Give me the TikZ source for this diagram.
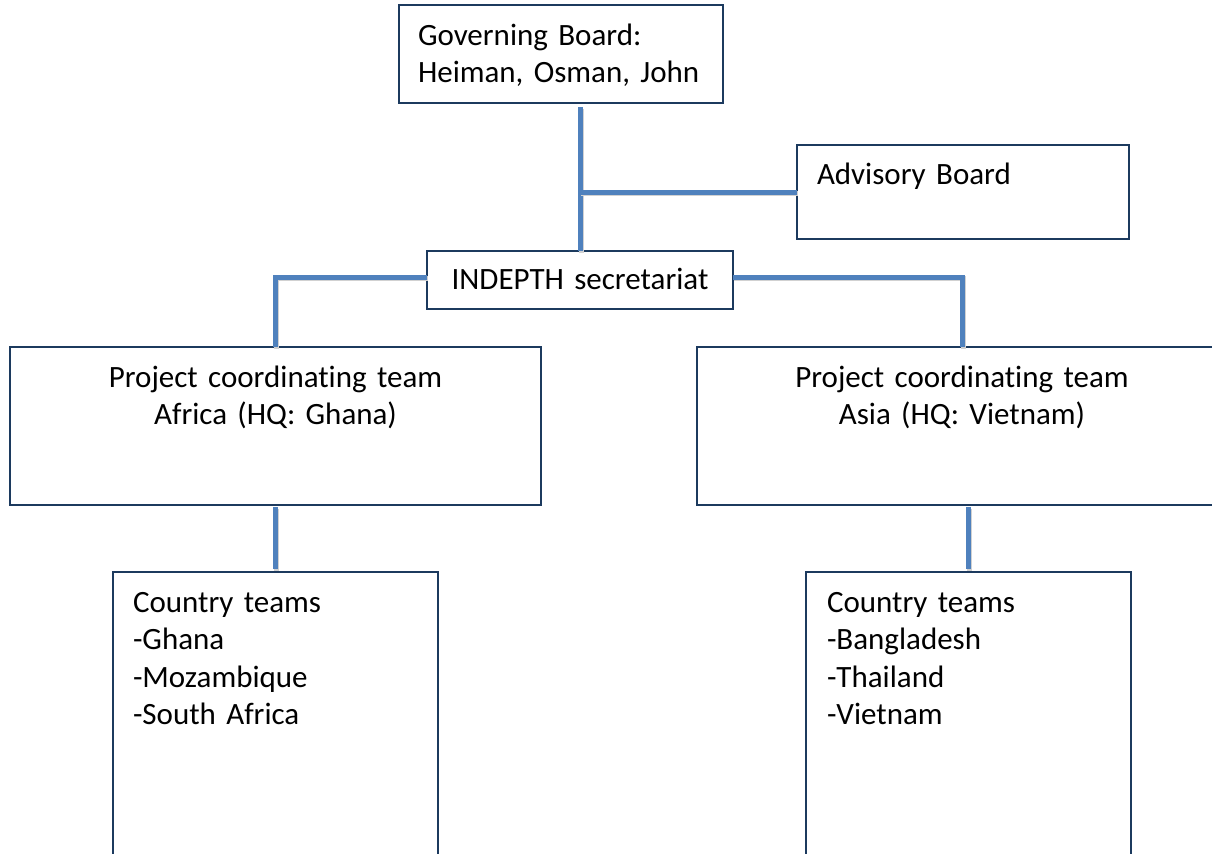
\documentclass[tikz,border=0pt]{standalone}
\usepackage{fontspec}
\setmainfont{Carlito}[Ligatures={NoCommon}]
\definecolor{boxline}{HTML}{1C3A5E}
\definecolor{linkblue}{HTML}{4F81BD}

\begin{document}
\begin{tikzpicture}[x=0.5pt,y=-0.5pt,
  box/.style={draw=boxline, line width=1pt, anchor=north west, outer sep=0pt, inner ysep=0pt, font=\fontsize{15.5}{18.75}\selectfont},
  link/.style={draw=linkblue, line width=2.5pt, preaction={draw=black!18, line width=2.5pt, transform canvas={xshift=0.7pt, yshift=-0.9pt}}}]
    \clip (0,0) rectangle (1212,853);
    \node[box, align=left, inner xsep=9.5pt, text width=143pt, text height=20pt, text depth=29pt] (gov) at (399,5) {Governing Board:\\Heiman, Osman, John};
    \node[box, align=left, inner xsep=10pt, text width=146pt, text height=19.5pt, text depth=27.5pt] (adv) at (797,145) {Advisory Board};
    \node[box, align=center, inner xsep=0pt, text width=153pt, text height=19pt, text depth=10pt] (sec) at (427,251) {INDEPTH secretariat};
    \node[box, align=center, inner xsep=0pt, text width=265.5pt, text height=20pt, text depth=59pt] (afr) at (10,347) {Project coordinating team\\Africa (HQ: Ghana)};
    \node[box, align=center, inner xsep=0pt, text width=265pt, text height=20pt, text depth=59pt] (asia) at (697,347) {Project coordinating team\\Asia (HQ: Vietnam)};
    \node[box, align=left, inner xsep=10pt, text width=142.5pt, text height=20pt, text depth=144pt] (cta) at (113,572) {Country teams\\-Ghana\\-Mozambique\\-South Africa};
    \node[box, align=left, inner xsep=10.5pt, text width=141.5pt, text height=20pt, text depth=144pt] (ctb) at (806,572) {Country teams\\-Bangladesh\\-Thailand\\-Vietnam};
    % board links
    \draw[link] ([yshift=-2pt]sec.north |- gov.south) -- (sec.north);
    \draw[link] (adv.west -| sec.north) -- (adv.west);
    % secretariat to the two regions
    \draw[link] ([yshift=1.5pt]sec.west) -| (afr.north);
    \draw[link] ([yshift=1.5pt]sec.east) -| (asia.north);
    % regions to country teams
    \draw[link] ([yshift=-1pt]afr.south) -- ([yshift=1.5pt]cta.north);
    \draw[link] ([yshift=-1pt]ctb.north |- asia.south) -- ([yshift=1.5pt]ctb.north);
\end{tikzpicture}
\end{document}
